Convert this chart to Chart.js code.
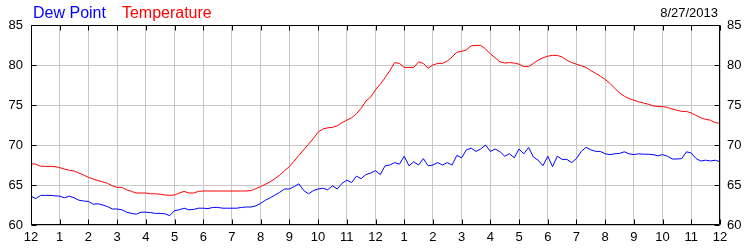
<!DOCTYPE html>
<html>
<head>
<meta charset="utf-8">
<script src="https://cdn.jsdelivr.net/npm/chart.js@4.4.0/dist/chart.umd.min.js"></script>
<style>
  html, body { margin: 0; padding: 0; background: #ffffff; }
  #wrap { width: 750px; height: 250px; position: relative; }
</style>
</head>
<body>
<div id="wrap"><canvas id="c" width="750" height="250"></canvas></div>
<script>
// ---- data (10-minute readings, 12 AM to 12 AM) ----
const dateLabel = "8/27/2013";
const hourLabels = ["12","1","2","3","4","5","6","7","8","9","10","11","12","1","2","3","4","5","6","7","8","9","10","11","12"];
const yTicks = [60, 65, 70, 75, 80, 85];
const sampleMinutes = 10;

const temperature = [
  67.65, 67.6, 67.35, 67.33, 67.33, 67.3,
  67.17, 67.0, 66.85, 66.75, 66.5, 66.25,
  65.96, 65.75, 65.55, 65.4, 65.2, 64.9,
  64.7, 64.7, 64.4, 64.2, 64.0, 64.0,
  64.0, 63.9, 63.9, 63.85, 63.75, 63.7,
  63.75, 64.0, 64.2, 64.0, 64.0, 64.2,
  64.25, 64.25, 64.25, 64.25, 64.25, 64.25,
  64.25, 64.25, 64.25, 64.25, 64.3, 64.55,
  64.8, 65.1, 65.4, 65.8, 66.25, 66.8,
  67.3, 68.0, 68.7, 69.4, 70.1, 70.8,
  71.6, 72.0, 72.15, 72.2, 72.4, 72.8,
  73.1, 73.4, 73.9, 74.6, 75.5, 76.0,
  76.9, 77.6, 78.4, 79.3, 80.3, 80.2,
  79.7, 79.7, 79.7, 80.4, 80.2, 79.6,
  80.0, 80.2, 80.2, 80.5, 81.0, 81.6,
  81.7, 81.9, 82.4, 82.45, 82.45, 82.0,
  81.4, 80.9, 80.4, 80.25, 80.3, 80.25,
  80.1, 79.8, 79.8, 80.2, 80.6, 80.9,
  81.1, 81.2, 81.2, 81.0, 80.6, 80.3,
  80.1, 79.9, 79.7, 79.3, 78.96, 78.6,
  78.2, 77.7, 77.1, 76.5, 76.1, 75.8,
  75.6, 75.4, 75.25, 75.1, 74.9, 74.8,
  74.8, 74.7, 74.5, 74.35, 74.2, 74.2,
  74.0, 73.7, 73.4, 73.2, 73.1, 72.8,
  72.7
];

const dewPoint = [
  63.6, 63.3, 63.7, 63.7, 63.7, 63.65,
  63.6, 63.4, 63.6, 63.4, 63.1, 63.0,
  62.95, 62.6, 62.65, 62.5, 62.3, 62.0,
  62.0, 61.9, 61.6, 61.45, 61.35, 61.6,
  61.6, 61.55, 61.45, 61.45, 61.4, 61.17,
  61.8, 61.9, 62.1, 61.9, 61.95, 62.1,
  62.1, 62.05, 62.2, 62.2, 62.1, 62.1,
  62.1, 62.1, 62.2, 62.25, 62.25, 62.4,
  62.7, 63.1, 63.4, 63.75, 64.1, 64.5,
  64.5, 64.8, 65.15, 64.3, 63.9, 64.3,
  64.5, 64.6, 64.4, 64.9, 64.5, 65.2,
  65.6, 65.3, 66.1, 65.8, 66.3, 66.5,
  66.8, 66.3, 67.4, 67.5, 67.8, 67.6,
  68.6, 67.4, 67.9, 67.5, 68.3, 67.4,
  67.5, 67.8, 67.5, 67.8, 67.5, 68.7,
  68.4, 69.4, 69.6, 69.2, 69.5, 70.0,
  69.2, 69.5, 69.17, 68.6, 68.9, 68.4,
  69.5, 68.9, 69.7, 68.5, 68.1, 67.4,
  68.6, 67.3, 68.6, 68.2, 68.2, 67.8,
  68.3, 69.2, 69.7, 69.4, 69.2, 69.2,
  68.9, 68.8, 68.9, 68.95, 69.15, 68.9,
  68.8, 68.9, 68.85, 68.85, 68.8, 68.65,
  68.8, 68.6, 68.25, 68.25, 68.3, 69.15,
  69.0, 68.3, 68.0, 68.1, 68.0, 68.1,
  67.9
];

// ---- build chart ----
const toPoints = arr => arr.map((v, i) => ({ x: i * sampleMinutes / 60, y: v }));
const FONT = "'Liberation Sans', Arial, sans-serif";

const framePlugin = {
  id: 'frame',
  afterDraw(chart) {
    const ctx = chart.ctx;
    const a = chart.chartArea;
    const L = Math.round(a.left) + 0.5, R = Math.round(a.right) - 0.5;
    const T = Math.round(a.top) + 0.5, B = Math.round(a.bottom) - 0.5;
    ctx.save();
    ctx.strokeStyle = '#000';
    ctx.lineWidth = 1;
    ctx.beginPath();
    ctx.rect(L, T, R - L, B - T);
    // inward tick marks on all four sides
    const tl = 5;
    chart.scales.x.ticks.forEach(t => {
      const px = Math.round(chart.scales.x.getPixelForValue(t.value)) + 0.5;
      ctx.moveTo(px, T); ctx.lineTo(px, T + tl);
      ctx.moveTo(px, B); ctx.lineTo(px, B - tl);
    });
    chart.scales.y.ticks.forEach(t => {
      const py = Math.round(chart.scales.y.getPixelForValue(t.value)) + 0.5;
      ctx.moveTo(L, py); ctx.lineTo(L + tl, py);
      ctx.moveTo(R, py); ctx.lineTo(R - tl, py);
    });
    ctx.stroke();

    // legend texts and date
    ctx.textBaseline = 'alphabetic';
    ctx.font = '16px ' + FONT;
    ctx.textAlign = 'left';
    const ds = chart.data.datasets;
    let x = 33;
    [1, 0].forEach(i => {
      ctx.fillStyle = ds[i].borderColor;
      ctx.fillText(ds[i].label, x, 18);
      x += ctx.measureText(ds[i].label).width + 16;
    });
    ctx.font = '13px ' + FONT;
    ctx.fillStyle = '#000';
    ctx.textAlign = 'right';
    ctx.fillText(dateLabel, 718, 17);
    ctx.restore();
  }
};

const yTickOpts = {
  stepSize: 5,
  padding: 8,
  color: '#000',
  font: { family: FONT, size: 13 },
  callback: v => (yTicks.includes(v) ? String(v) : '')
};

new Chart(document.getElementById('c'), {
  type: 'line',
  data: {
    datasets: [
      { label: 'Temperature', data: toPoints(temperature), borderColor: '#ff0000', borderWidth: 1, pointRadius: 0, tension: 0, fill: false },
      { label: 'Dew Point', data: toPoints(dewPoint), borderColor: '#0000ff', borderWidth: 1, pointRadius: 0, tension: 0, fill: false }
    ]
  },
  options: {
    responsive: false,
    animation: false,
    events: [],
    layout: { padding: { top: 25, left: 0, right: 0, bottom: 0 } },
    plugins: { legend: { display: false }, tooltip: { enabled: false } },
    scales: {
      x: {
        type: 'linear', min: 0, max: 24,
        afterFit: s => { s.height = 25; },
        grid: { color: '#c8c8c8', drawTicks: false },
        border: { display: false },
        ticks: {
          stepSize: 1, autoSkip: false, maxRotation: 0, padding: 5,
          color: '#000', font: { family: FONT, size: 13 },
          callback: (v) => hourLabels[Math.round(v)]
        }
      },
      y: {
        type: 'linear', position: 'left', min: 60, max: 85,
        afterFit: s => { s.width = 31; },
        grid: { color: '#c8c8c8', drawTicks: false },
        border: { display: false },
        ticks: yTickOpts
      },
      y2: {
        type: 'linear', position: 'right', min: 60, max: 85,
        afterFit: s => { s.width = 30; },
        grid: { drawOnChartArea: false, drawTicks: false },
        border: { display: false },
        ticks: Object.assign({}, yTickOpts, { padding: 7 })
      }
    }
  },
  plugins: [framePlugin]
});
</script>
</body>
</html>
